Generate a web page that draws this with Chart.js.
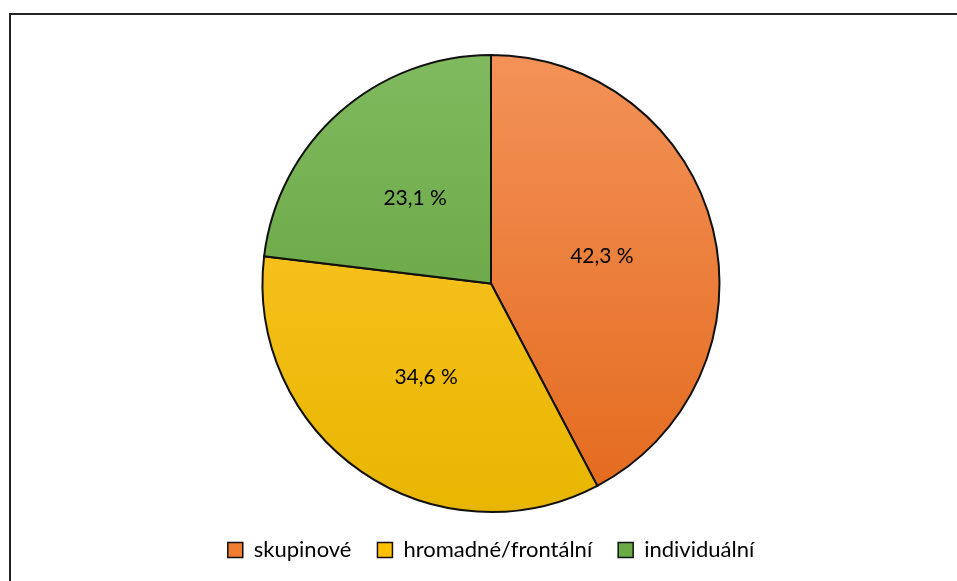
<!DOCTYPE html>
<html>
<head>
<meta charset="utf-8">
<script src="https://cdn.jsdelivr.net/npm/chart.js@4.4.0/dist/chart.umd.min.js"></script>
<style>
  html, body { margin: 0; padding: 0; background: #fff; }
  #wrap { width: 957px; height: 581px; position: relative; }
</style>
</head>
<body>
<div id="wrap"><canvas id="pieChart" width="957" height="581"></canvas></div>
<script>
// chart data
const categories = ['skupinové', 'hromadné/frontální', 'individuální'];
const shares = [42.3, 34.6, 23.1];
const valueLabels = ['42,3 %', '34,6 %', '23,1 %'];
// gradient stops per slice (top -> bottom)
const sliceTop = ['#f39258', '#ffc82f', '#80ba5f'];
const sliceBottom = ['#e3691b', '#e8b600', '#5c9b34'];
const sliceSolid = ['#ef7d2f', '#ffc000', '#6aab45'];

const FONT = 'Lato, "DejaVu Sans", sans-serif';

// frame in the top-left corner, like the copied Excel chart
const framePlugin = {
    id: 'frame',
    beforeDraw(chart) {
        const ctx = chart.ctx;
        ctx.save();
        ctx.fillStyle = '#222';
        ctx.fillRect(9, 13, chart.width - 9, 2);
        ctx.fillRect(9, 13, 2, chart.height - 13);
        ctx.restore();
    }
};

// value labels inside slices
const sliceLabels = {
    id: 'sliceLabels',
    afterDatasetsDraw(chart) {
        const ctx = chart.ctx;
        const meta = chart.getDatasetMeta(0);
        ctx.save();
        ctx.font = '21px ' + FONT;
        ctx.fillStyle = '#000';
        ctx.textAlign = 'center';
        ctx.textBaseline = 'middle';
        meta.data.forEach((arc, i) => {
            const p = arc.tooltipPosition();
            ctx.fillText(valueLabels[i], p.x, p.y);
        });
        ctx.restore();
    }
};

function sliceFill(context) {
    const chart = context.chart;
    const area = chart.chartArea;
    const i = context.dataIndex;
    if (!area) return sliceSolid[i];
    const g = chart.ctx.createLinearGradient(0, area.top, 0, area.bottom);
    g.addColorStop(0, sliceTop[i]);
    g.addColorStop(1, sliceBottom[i]);
    return g;
}

new Chart(document.getElementById('pieChart').getContext('2d'), {
    type: 'pie',
    data: {
        labels: categories,
        datasets: [{
            data: shares,
            backgroundColor: sliceFill,
            borderColor: '#111',
            borderWidth: 2,
            borderJoinStyle: 'miter'
        }]
    },
    options: {
        responsive: false,
        animation: false,
        layout: { padding: { top: 54, left: 38, right: 13, bottom: 10 } },
        plugins: {
            tooltip: { enabled: false },
            legend: {
                display: true,
                position: 'bottom',
                labels: {
                    font: { family: FONT, size: 22 },
                    color: '#000',
                    boxWidth: 15,
                    boxHeight: 15,
                    padding: 26,
                    generateLabels(chart) {
                        return categories.map((c, i) => ({
                            text: c,
                            fillStyle: sliceSolid[i],
                            strokeStyle: '#111',
                            lineWidth: 1.5,
                            index: i
                        }));
                    }
                }
            }
        }
    },
    plugins: [framePlugin, sliceLabels]
});
</script>
</body>
</html>
